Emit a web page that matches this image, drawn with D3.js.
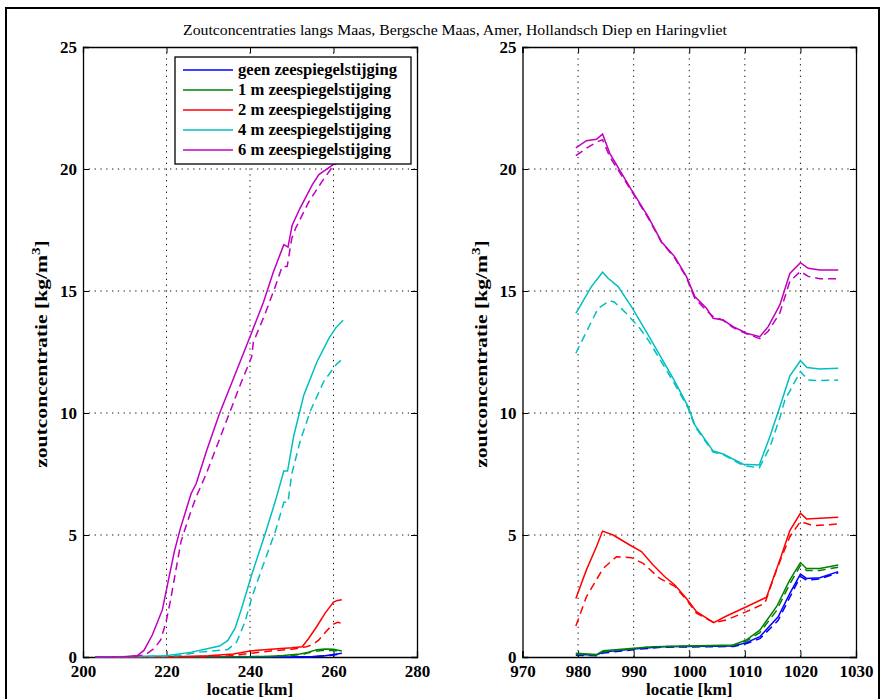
<!DOCTYPE html>
<html>
<head>
<meta charset="utf-8">
<script src="https://cdn.jsdelivr.net/npm/d3@7"></script>
<style>
  html, body { margin: 0; padding: 0; background: #fff; }
  svg { display: block; }
</style>
</head>
<body>
<div id="chart"></div>
<script>
// series labels and colours (legend order)
const seriesNames = [
  'geen zeespiegelstijging',
  '1 m zeespiegelstijging',
  '2 m zeespiegelstijging',
  '4 m zeespiegelstijging',
  '6 m zeespiegelstijging'
];
const seriesColors = ['#0000ff', '#008000', '#ff0000', '#00bfbf', '#bf00bf'];

const leftXTicks = [200, 220, 240, 260, 280];
const rightXTicks = [970, 980, 990, 1000, 1010, 1020, 1030];
const yTicks = [0, 5, 10, 15, 20, 25];

// left panel: [locatie km, zoutconcentratie kg/m3]
const left0Solid = [[203,0],[250,0],[255,0.02],[258,0.05],[260,0.1],[262,0.15]];
const left0Dashed = [[203,0],[252,0],[256,0.02],[260,0.08],[262,0.12]];
const left1Solid = [[203,0],[240,0],[245,0.03],[248,0.06],[252,0.12],[254,0.2],[256,0.3],[258,0.33],[260,0.32],[262,0.25]];
const left1Dashed = [[203,0],[245,0.02],[250,0.06],[253,0.12],[255,0.22],[257,0.27],[260,0.27],[262,0.2]];
const left2Solid = [[203,0],[220,0],[230,0.05],[236,0.12],[240,0.25],[245,0.32],[250,0.38],[252.5,0.42],[254,0.75],[256,1.25],[258,1.8],[260,2.25],[261,2.32],[262,2.35]];
const left2Dashed = [[203,0],[225,0],[235,0.05],[240,0.15],[245,0.25],[250,0.32],[253.5,0.42],[255,0.5],[256.5,0.7],[258.5,1.1],[260,1.35],[261,1.42],[262,1.38]];
const left4Solid = [[203,0],[212,0.02],[220,0.05],[226,0.2],[230,0.35],[232.7,0.45],[234.7,0.68],[236.4,1.17],[238,2.0],[240.4,3.37],[243.6,5.03],[246.1,6.41],[248.1,7.62],[249,7.62],[250,8.6],[250.5,9.08],[252.9,10.74],[256.1,12.12],[259,13.09],[260.6,13.5],[262.3,13.8]];
const left4Dashed = [[203,0],[215,0.02],[222.6,0.05],[228,0.2],[234.7,0.31],[236.8,0.61],[238.8,1.44],[240.4,2.42],[243.2,3.79],[246.1,5.16],[248.1,6.34],[249.1,6.34],[250,7.5],[252.1,8.9],[254.5,10.1],[257.7,11.3],[260.6,11.98],[262,12.2]];
const left6Solid = [[203,0],[210,0.01],[213,0.06],[214.6,0.27],[216.6,0.9],[219,1.93],[220.4,3.1],[221.9,4.34],[223.3,5.25],[225.9,6.7],[227.1,7.1],[229.5,8.4],[232.7,9.98],[236.4,11.57],[239.6,12.95],[243.2,14.53],[245.6,15.78],[248.1,16.9],[249.1,16.8],[250.1,17.7],[252,18.4],[254.9,19.35],[256.5,19.77],[260.1,20.2],[262,20.5]];
const left6Dashed = [[203,0],[212,0.01],[215,0.1],[217,0.34],[218.6,0.7],[219.9,1.44],[220.9,2.27],[223.5,4.75],[225.9,6.0],[227.1,6.56],[229.5,7.5],[232.3,8.75],[235.2,10.05],[238,11.3],[240.4,12.3],[240.8,12.9],[243.6,14.06],[246.1,15.2],[247.7,16.0],[248.9,16.0],[250,17.15],[250.9,17.56],[254.1,18.66],[257.3,19.5],[259.8,20.1],[262,20.4]];

// right panel
const right0Solid = [[979.6,0.1],[983.3,0.08],[984.5,0.2],[990,0.33],[995,0.42],[1008,0.45],[1010.3,0.59],[1012.7,0.83],[1016,1.65],[1018.1,2.61],[1020,3.4],[1021.1,3.22],[1023.5,3.25],[1026.8,3.5]];
const right0Dashed = [[979.6,0.07],[983.3,0.05],[984.5,0.16],[990,0.3],[995,0.4],[1008,0.43],[1010.3,0.55],[1012.7,0.75],[1016,1.5],[1018.1,2.45],[1020,3.3],[1021.1,3.15],[1023.5,3.2],[1026.8,3.45]];
const right1Solid = [[979.6,0.15],[983.3,0.1],[984.5,0.26],[990,0.36],[993.5,0.42],[1007.9,0.49],[1010.3,0.7],[1012.7,1.1],[1015.7,2.06],[1018.1,3.16],[1020,3.87],[1021.1,3.63],[1023.5,3.63],[1026.8,3.77]];
const right1Dashed = [[979.6,0.12],[983.3,0.08],[984.5,0.22],[990,0.34],[993.5,0.42],[1007.9,0.47],[1010.3,0.65],[1012.7,1.0],[1015.7,1.9],[1018.1,3.0],[1020,3.75],[1021.1,3.55],[1023.5,3.55],[1026.8,3.68]];
const right2Solid = [[979.6,2.4],[981.5,3.57],[983.3,4.52],[984.4,5.16],[986.3,5.0],[989.3,4.59],[991.4,4.32],[993.5,3.77],[995.6,3.29],[997.4,2.95],[999.5,2.4],[1001.3,1.86],[1004.4,1.41],[1006.7,1.68],[1010.3,2.06],[1013.9,2.45],[1016.3,3.98],[1018.1,5.18],[1020,5.89],[1021.1,5.66],[1026.8,5.73]];
const right2Dashed = [[979.6,1.27],[981.5,2.47],[984.5,3.63],[986.9,4.11],[989.6,4.07],[991.7,3.84],[994.7,3.22],[997.4,2.9],[999.5,2.35],[1001.3,1.8],[1004.4,1.41],[1006.7,1.52],[1010.3,1.86],[1013.6,2.2],[1015.7,3.57],[1018.1,4.93],[1020,5.55],[1022.3,5.38],[1026.8,5.45]];
const right4Solid = [[979.6,14.08],[982.4,15.18],[984.4,15.77],[985.4,15.52],[987.2,15.18],[989.6,14.36],[992.6,13.2],[997.1,11.42],[999.8,10.26],[1001,9.51],[1004.3,8.44],[1006.1,8.32],[1009.7,7.9],[1012.6,7.87],[1014.5,9.03],[1016.3,10.26],[1018.1,11.52],[1020,12.14],[1021.2,11.86],[1023.5,11.8],[1026.8,11.83]];
const right4Dashed = [[979.6,12.45],[981.5,13.33],[983.6,14.29],[985.7,14.6],[986.5,14.55],[988.7,14.08],[991.1,13.47],[992.6,13.0],[997.1,11.3],[999.8,10.2],[1001,9.45],[1004.3,8.4],[1006.1,8.3],[1009.7,7.85],[1012.6,7.75],[1014.5,8.6],[1016.3,9.8],[1017.2,10.53],[1020,11.7],[1021.4,11.35],[1023.5,11.33],[1026.8,11.35]];
const right6Solid = [[979.6,20.87],[981.5,21.16],[983.3,21.22],[984.4,21.43],[985.7,20.64],[989.6,19.14],[992.6,18.05],[995,17.02],[997.4,16.4],[999.5,15.59],[1001,14.77],[1003.1,14.29],[1004.3,13.88],[1006.1,13.81],[1007.9,13.54],[1010.3,13.27],[1012.7,13.13],[1014.2,13.54],[1016.3,14.43],[1018.1,15.72],[1020,16.16],[1021.4,15.93],[1023.5,15.86],[1026.8,15.86]];
const right6Dashed = [[979.6,20.55],[981.5,20.85],[983.3,21.1],[984.4,21.2],[985.7,20.5],[989.6,19.1],[992.6,18.0],[995,17.0],[997.4,16.35],[999.5,15.55],[1001,14.7],[1003.1,14.2],[1004.3,13.95],[1006.1,13.8],[1007.9,13.5],[1010.3,13.25],[1012.7,13.05],[1014.2,13.35],[1016.3,14.1],[1018.1,15.4],[1020,15.8],[1021.4,15.6],[1023.5,15.5],[1026.8,15.5]];

const leftSolid = [left0Solid, left1Solid, left2Solid, left4Solid, left6Solid];
const leftDashed = [left0Dashed, left1Dashed, left2Dashed, left4Dashed, left6Dashed];
const rightSolid = [right0Solid, right1Solid, right2Solid, right4Solid, right6Solid];
const rightDashed = [right0Dashed, right1Dashed, right2Dashed, right4Dashed, right6Dashed];

const W = 884, H = 699;
const serif = "'Liberation Serif', 'Times New Roman', Times, serif";

const svg = d3.select('#chart').append('svg')
  .attr('width', W).attr('height', H);

// figure frame
svg.append('rect')
  .attr('x', 6).attr('y', 8).attr('width', 873).attr('height', 720)
  .attr('fill', 'none').attr('stroke', '#000').attr('stroke-width', 2);

svg.append('text')
  .attr('x', 455).attr('y', 35)
  .attr('text-anchor', 'middle')
  .attr('font-family', serif).attr('font-size', 15)
  .attr('textLength', 544).attr('lengthAdjust', 'spacingAndGlyphs')
  .text('Zoutconcentraties langs Maas, Bergsche Maas, Amer, Hollandsch Diep en Haringvliet');

function drawPanel(xDomain, xRange, xTicks, solid, dashed, withLegend) {
  const x = d3.scaleLinear().domain(xDomain).range(xRange);
  const y = d3.scaleLinear().domain([0, 25]).range([657, 47]);
  const [x0, x1] = xRange;
  const [y0, y1] = [657, 47];
  const g = svg.append('g');

  g.append('rect')
    .attr('x', x0).attr('y', y1).attr('width', x1 - x0).attr('height', y0 - y1)
    .attr('fill', '#fff');

  // dotted grid
  g.append('g').selectAll('line.vx')
    .data(xTicks.slice(1, -1))
    .enter().append('line')
    .attr('x1', d => x(d)).attr('x2', d => x(d))
    .attr('y1', y0).attr('y2', y1)
    .attr('stroke', '#111').attr('stroke-width', 1)
    .attr('stroke-dasharray', '1.3,4.5');
  g.append('g').selectAll('line.hy')
    .data(yTicks.slice(1, -1))
    .enter().append('line')
    .attr('x1', x0).attr('x2', x1)
    .attr('y1', d => y(d)).attr('y2', d => y(d))
    .attr('stroke', '#111').attr('stroke-width', 1)
    .attr('stroke-dasharray', '1.3,4.5');

  // axes with inward ticks on all four sides
  const tickLen = 6;
  const fontCss = `font-family:${serif};font-weight:bold;font-size:17px`;
  const bottom = g.append('g').attr('transform', `translate(0,${y0})`)
    .call(d3.axisBottom(x).tickValues(xTicks).tickSize(-tickLen).tickPadding(8).tickFormat(d3.format('d')));
  const top = g.append('g').attr('transform', `translate(0,${y1})`)
    .call(d3.axisTop(x).tickValues(xTicks).tickSize(-tickLen).tickFormat(''));
  const left = g.append('g').attr('transform', `translate(${x0},0)`)
    .call(d3.axisLeft(y).tickValues(yTicks).tickSize(-tickLen).tickPadding(6).tickFormat(d3.format('d')));
  const right = g.append('g').attr('transform', `translate(${x1},0)`)
    .call(d3.axisRight(y).tickValues(yTicks).tickSize(-tickLen).tickFormat(''));
  [bottom, top, left, right].forEach(a => {
    a.select('.domain').attr('stroke', '#000').attr('stroke-width', 1.3);
    a.selectAll('.tick line').attr('stroke', '#000').attr('stroke-width', 1);
    a.selectAll('.tick text').attr('style', fontCss).attr('fill', '#000');
  });
  bottom.selectAll('.tick text').attr('dy', '0.7em');
  left.selectAll('.tick text').attr('dy', '0.3em');

  // curves
  const line = d3.line().x(d => x(d[0])).y(d => y(d[1]));
  const curves = g.append('g').attr('fill', 'none').attr('stroke-width', 1.5);
  solid.forEach((s, i) => {
    curves.append('path').datum(s).attr('d', line).attr('stroke', seriesColors[i]);
  });
  dashed.forEach((s, i) => {
    curves.append('path').datum(s).attr('d', line).attr('stroke', seriesColors[i])
      .attr('stroke-dasharray', '8,5');
  });

  // labels
  const cx = (x0 + x1) / 2;
  g.append('text')
    .attr('x', cx).attr('y', 695)
    .attr('text-anchor', 'middle')
    .attr('style', fontCss)
    .text('locatie [km]');

  const yl = g.append('text')
    .attr('transform', `translate(${x0 - 36},${(y0 + y1) / 2 + 2}) rotate(-90) scale(1.27,1)`)
    .attr('text-anchor', 'middle')
    .attr('style', fontCss);
  yl.append('tspan').text('zoutconcentratie [kg/m');
  yl.append('tspan').attr('font-size', 12).attr('dy', -7).text('3');
  yl.append('tspan').attr('dy', 7).text(']');

  if (withLegend) {
    const lg = g.append('g');
    lg.append('rect')
      .attr('x', 175).attr('y', 57).attr('width', 236).attr('height', 107)
      .attr('fill', '#fff').attr('stroke', '#000').attr('stroke-width', 1.3);
    seriesNames.forEach((name, i) => {
      const ry = 70 + i * 20;
      lg.append('line')
        .attr('x1', 183).attr('x2', 233).attr('y1', ry).attr('y2', ry)
        .attr('stroke', seriesColors[i]).attr('stroke-width', 1.5);
      lg.append('text')
        .attr('x', 238).attr('y', ry).attr('dy', '0.33em')
        .attr('style', `font-family:${serif};font-weight:bold;font-size:16.6px`)
        .text(name);
    });
  }
}

drawPanel([200, 280], [83, 417], leftXTicks, leftSolid, leftDashed, true);
drawPanel([970, 1030], [522.5, 856], rightXTicks, rightSolid, rightDashed, false);
</script>
</body>
</html>
